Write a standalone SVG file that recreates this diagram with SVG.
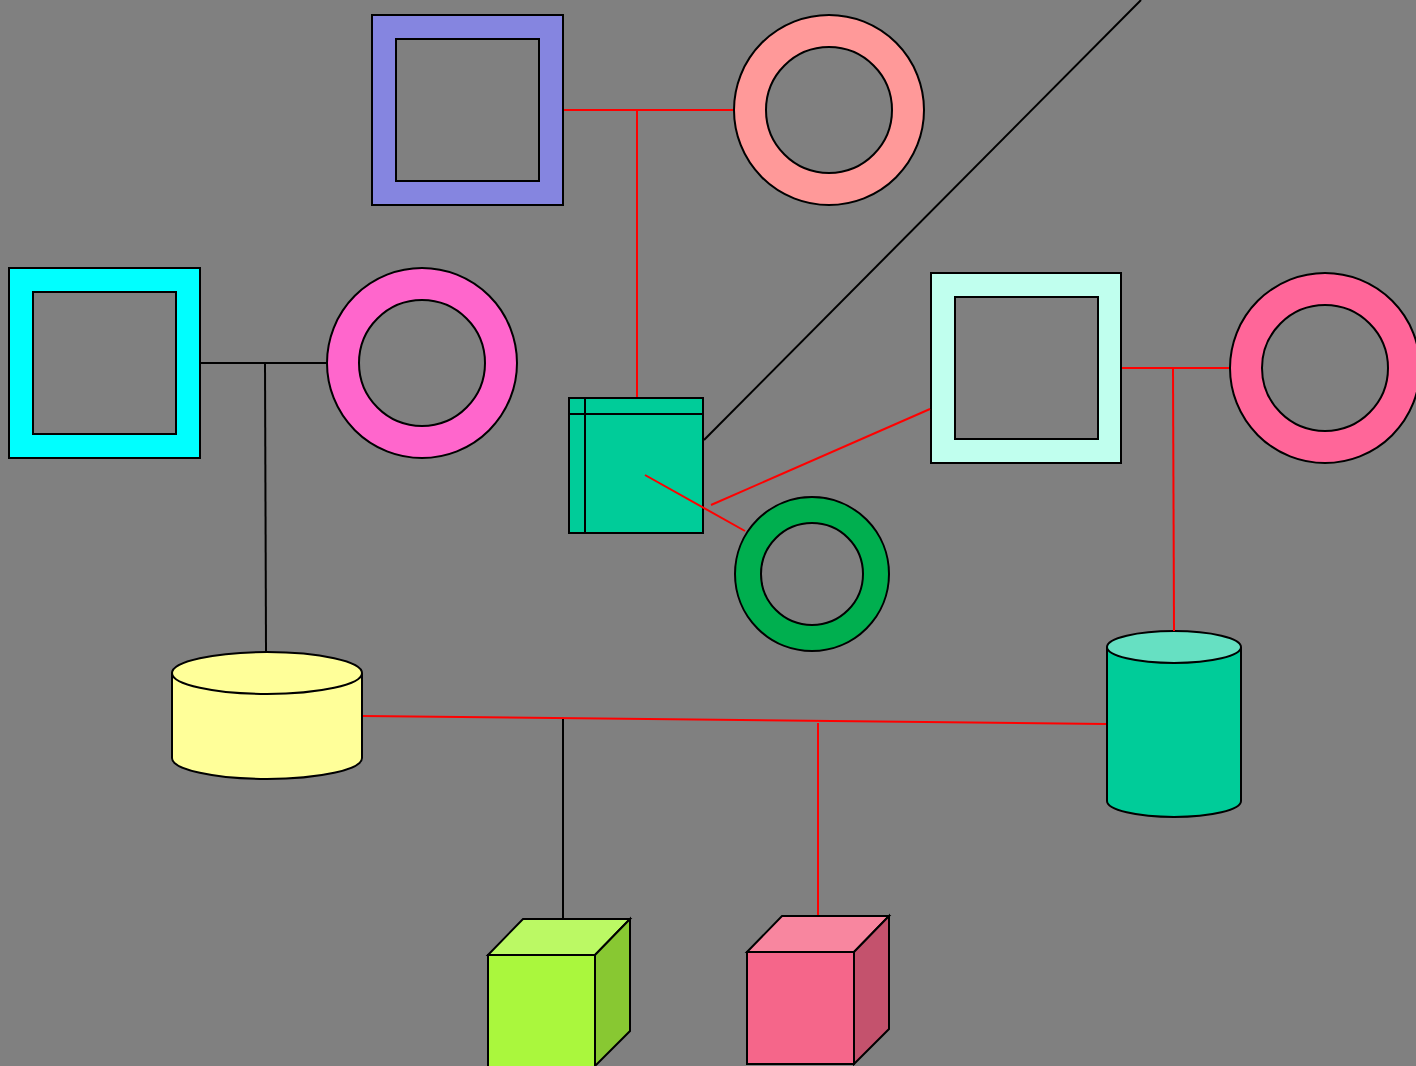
<svg xmlns="http://www.w3.org/2000/svg" width="1416" height="1066" viewBox="0 0 1416 1066">
<style>
.s{stroke:#000;stroke-width:2}
.hole{fill:#808080;stroke:#000;stroke-width:2}
.r{stroke:#ff0000;stroke-width:2;fill:none}
.k{stroke:#000;stroke-width:2;fill:none}
</style>
<rect x="0" y="0" width="1416" height="1066" fill="#808080"/>
<g id="node-purple-square">
<rect class="s" x="372" y="15" width="191" height="190" fill="#8585E0"/>
<rect class="hole" x="396" y="39" width="143" height="142"/>
</g>
<g id="node-salmon-circle">
<circle class="s" cx="829" cy="110" r="95" fill="#FF9999"/>
<circle class="hole" cx="829" cy="110" r="63"/>
</g>
<g id="node-cyan-square">
<rect class="s" x="9" y="268" width="191" height="190" fill="#00FFFF"/>
<rect class="hole" x="33" y="292" width="143" height="142"/>
</g>
<g id="node-magenta-circle">
<circle class="s" cx="422" cy="363" r="95" fill="#FF66CC"/>
<circle class="hole" cx="422" cy="363" r="63"/>
</g>
<g id="node-teal-storage">
<rect class="s" x="569" y="398" width="134" height="135" fill="#00CC99"/>
<line class="k" x1="569" y1="414" x2="703" y2="414"/>
<line class="k" x1="585" y1="398" x2="585" y2="533"/>
</g>
<g id="node-mint-square">
<rect class="s" x="931" y="273" width="190" height="190" fill="#C0FFEE"/>
<rect class="hole" x="955" y="297" width="143" height="142"/>
</g>
<g id="node-pink-circle">
<circle class="s" cx="1325" cy="368" r="95" fill="#FF6699"/>
<circle class="hole" cx="1325" cy="368" r="63"/>
</g>
<g id="node-green-circle">
<circle class="s" cx="812" cy="574" r="77" fill="#00AF4F"/>
<circle class="hole" cx="812" cy="574" r="51"/>
</g>
<g id="node-yellow-cylinder">
<path class="s" d="M172,673 L172,758 A95,21 0 0 0 362,758 L362,673" fill="#FFFF99"/>
<ellipse class="s" cx="267" cy="673" rx="95" ry="21" fill="#FFFF99"/>
</g>
<g id="node-teal-cylinder">
<path class="s" d="M1107,647 L1107,801 A67,16 0 0 0 1241,801 L1241,647" fill="#00CC99"/>
<ellipse class="s" cx="1174" cy="647" rx="67" ry="16" fill="#66E0C2"/>
</g>
<g id="node-green-cube">
<polygon class="s" points="488,955 523,919 630,919 595,955" fill="#BBF964"/>
<polygon class="s" points="595,955 630,919 630,1031 595,1066" fill="#88C832"/>
<rect class="s" x="488" y="955" width="107" height="115" fill="#AAF73D"/>
</g>
<g id="node-pink-cube">
<polygon class="s" points="747,952 782,916 889,916 854,952" fill="#F8869F"/>
<polygon class="s" points="854,952 889,916 889,1029 854,1064" fill="#C4526D"/>
<rect class="s" x="747" y="952" width="107" height="112" fill="#F5668A"/>
</g>
<g id="connectors">
<line class="r" x1="564" y1="110" x2="733" y2="110"/>
<line class="r" x1="637" y1="110" x2="637" y2="397"/>
<line class="k" x1="201" y1="363" x2="326" y2="363"/>
<line class="k" x1="265" y1="363" x2="266" y2="651"/>
<line class="k" x1="704" y1="440" x2="1141" y2="0"/>
<line class="r" x1="1122" y1="368" x2="1229" y2="368"/>
<line class="r" x1="1173" y1="368" x2="1174" y2="631"/>
<line class="r" x1="930" y1="409" x2="711" y2="505"/>
<line class="r" x1="645" y1="475" x2="745" y2="531"/>
<line class="r" x1="363" y1="716" x2="1106" y2="724"/>
<line class="k" x1="563" y1="719" x2="563" y2="918"/>
<line class="r" x1="818" y1="723" x2="818" y2="915"/>
</g>
</svg>
